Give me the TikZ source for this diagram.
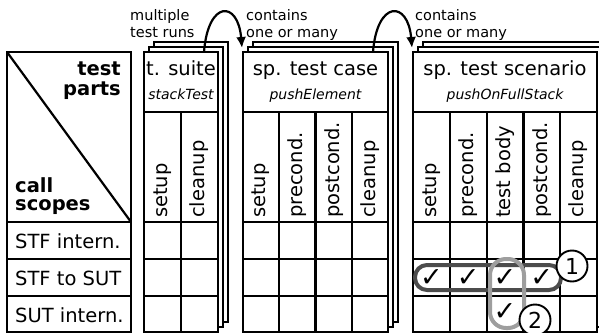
\documentclass[tikz,border=0pt]{standalone}
\usepackage{fontspec}
\setmainfont{DejaVu Sans}
\usetikzlibrary{arrows.meta}

% one sheet of a stacked test box: back copies, front frame, header lines
\newcommand\sheetstack[2]{%
  \foreach \o in {10,5} {\draw[sheet] ({#1+\o},{52-\o}) rectangle ({#2+\o},{332-\o});}
  \draw[sheet] (#1,52) rectangle (#2,332);
  \foreach \yy in {112,222,259,296} {\draw[grid] (#1,\yy) -- (#2,\yy);}
}

\begin{document}
\begin{tikzpicture}[x=1pt,y=-1pt,
  grid/.style={line width=2.2pt},
  sheet/.style={draw, line width=2.3pt, fill=white},
  bigtxt/.style={font=\fontsize{19.5}{22}\selectfont, inner sep=0pt},
  boldtxt/.style={font=\fontsize{19.5}{22}\selectfont\bfseries, inner sep=0pt},
  subtxt/.style={font=\fontsize{14}{16}\selectfont\itshape, inner sep=0pt},
  smalltxt/.style={font=\fontsize{14.5}{17}\selectfont, inner sep=0pt},
  colhead/.style={bigtxt, rotate=90, anchor=west},
  tick/.style={font=\fontsize{27}{30}\selectfont, inner sep=0pt},
  conn/.style={line width=2.2pt, -{Latex[length=11pt,width=10pt]}},
  numbadge/.style={draw, circle, fill=white, line width=1.9pt, minimum size=31pt,
    inner sep=0pt, font=\fontsize{22}{24}\selectfont},
  groupA/.style={draw=black!70, line width=4pt, rounded corners=12pt},
  groupB/.style={draw=black!38, line width=4pt, rounded corners=16pt}
]
\useasboundingbox (0,0) rectangle (599,332);

% legend column
\draw[sheet] (7,52) rectangle (131,332);
\draw[grid] (7,52) -- (131,222);
\foreach \yy in {222,259,296} {\draw[grid] (7,\yy) -- (131,\yy);}
\node[boldtxt, anchor=base east] (tp1) at (121,75) {test};
\node[boldtxt, anchor=base east] (tp2) at (121,95) {parts};
\node[boldtxt, anchor=base west] (cs1) at (15,192) {call};
\node[boldtxt, anchor=base west] (cs2) at (15,210) {scopes};
\node[bigtxt, anchor=base west] (r1) at (15,248) {STF intern.};
\node[bigtxt, anchor=base west] (r2) at (15,285) {STF to SUT};
\node[bigtxt, anchor=base west] (r3) at (15,322) {SUT intern.};

% test suite
\sheetstack{144}{218}
\draw[grid] (181,112) -- (181,332);
\node[bigtxt, anchor=base] (suite) at (181,75) {t. suite};
\node[subtxt, anchor=base] (suitename) at (181,99) {stackTest};
\node[colhead] (s1) at (162.5,218) {setup};
\node[colhead] (s2) at (199.5,218) {cleanup};

% specified test case
\sheetstack{243}{388}
\foreach \xx in {279.25,315.5,351.75} {\draw[grid] (\xx,112) -- (\xx,332);}
\node[bigtxt, anchor=base] (case) at (315.5,75) {sp. test case};
\node[subtxt, anchor=base] (casename) at (315.5,99) {pushElement};
\foreach [count=\i] \t in {setup,precond.,postcond.,cleanup}
  {\node[colhead] (c\i) at ({243+(\i-0.5)*36.25},218) {\t};}

% specified test scenario
\sheetstack{413}{597}
\foreach \xx in {449.8,486.6,523.4,560.2} {\draw[grid] (\xx,112) -- (\xx,332);}
\node[bigtxt, anchor=base] (scen) at (505,75) {sp. test scenario};
\node[subtxt, anchor=base] (scenname) at (505,99) {pushOnFullStack};
\foreach [count=\i] \t in {setup,precond.,test body,postcond.,cleanup}
  {\node[colhead] (p\i) at ({413+(\i-0.5)*36.8},218) {\t};}

% relations between the levels
\coordinate (suiteTop) at (204,52);
\coordinate (caseIn) at (242,48);
\coordinate (caseTop) at (373,52);
\coordinate (scenIn) at (412,48);
\draw[conn] (suiteTop) .. controls (208,0) and (238,0) .. (caseIn);
\draw[conn] (caseTop) .. controls (377,0) and (408,0) .. (scenIn);
\node[smalltxt, anchor=base west] (l1a) at (130,20) {multiple};
\node[smalltxt, anchor=base west] (l1b) at (130,37) {test runs};
\node[smalltxt, anchor=base west] (l2a) at (246,20) {contains};
\node[smalltxt, anchor=base west] (l2b) at (246,37) {one or many};
\node[smalltxt, anchor=base west] (l3a) at (415,20) {contains};
\node[smalltxt, anchor=base west] (l3b) at (415,37) {one or many};

% checked calls
\foreach [count=\i] \xx in {431.4,468.2,505,541.8}
  {\node[tick] (k\i) at (\xx,277.5) {✓};}
\node[tick] (k5) at (505,312) {✓};

% groupings and their markers
\draw[groupA] (415,265) rectangle (561,290);
\draw[groupB] (490,259) rectangle (524,328);
\node[numbadge] (m1) at (572,266) {1};
\node[numbadge] (m2) at (535,320) {2};
\end{tikzpicture}
\end{document}
